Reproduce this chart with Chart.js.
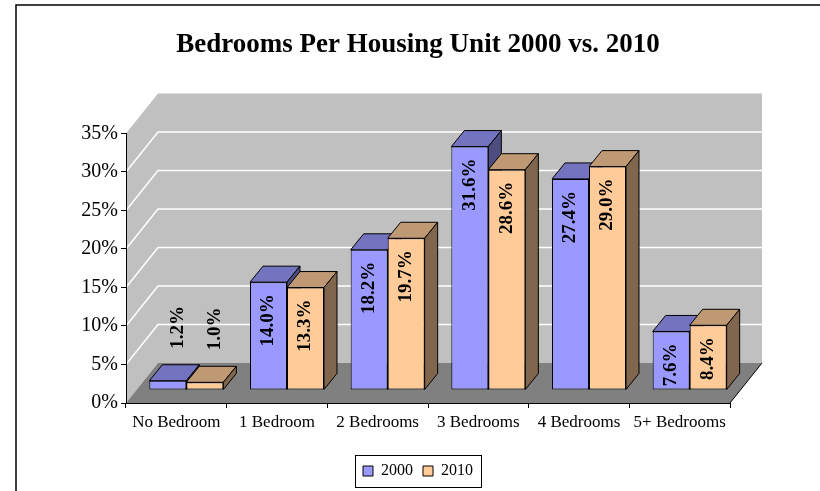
<!DOCTYPE html>
<html>
<head>
<meta charset="utf-8">
<script src="https://cdn.jsdelivr.net/npm/chart.js@4"></script>
<style>
  html, body { margin: 0; padding: 0; background: #fff; }
</style>
</head>
<body>
<canvas id="chart" width="820" height="491"></canvas>
<script>
const categories = ['No Bedroom', '1 Bedroom', '2 Bedrooms', '3 Bedrooms', '4 Bedrooms', '5+ Bedrooms'];
const seriesNames = ['2000', '2010'];
const values2000 = [1.2, 14.0, 18.2, 31.6, 27.4, 7.6];
const values2010 = [1.0, 13.3, 19.7, 28.6, 29.0, 8.4];
const yTicks = [0, 5, 10, 15, 20, 25, 30, 35];

const frontColors = ['#9999FF', '#FFCC99'];
const topColors = ['#7373BF', '#BF9973'];
const sideColors = ['#4D4D80', '#80664D'];

// fake 3d offsets (excel style)
const WALL_DX = 32, WALL_DY = -40;
const BAR_DX = 10, BAR_DY = -13;
const DEPTH_DX = 13, DEPTH_DY = -16;

Chart.defaults.font.family = '"Liberation Serif", "Times New Roman", serif';
Chart.defaults.color = '#000';

function poly(ctx, pts, fill, stroke) {
  ctx.beginPath();
  ctx.moveTo(pts[0][0], pts[0][1]);
  for (let i = 1; i < pts.length; i++) ctx.lineTo(pts[i][0], pts[i][1]);
  ctx.closePath();
  if (fill) { ctx.fillStyle = fill; ctx.fill(); }
  if (stroke) { ctx.strokeStyle = stroke; ctx.lineWidth = 1; ctx.stroke(); }
}

const scene3d = {
  id: 'scene3d',
  beforeDraw(chart) {
    const { ctx } = chart;
    const xs = chart.scales.x, ys = chart.scales.y;
    const L = xs.left, R = xs.right;
    const B = ys.getPixelForValue(yTicks[0]);
    const T = ys.getPixelForValue(yTicks[yTicks.length - 1]);
    ctx.save();
    ctx.fillStyle = '#fff';
    ctx.fillRect(0, 0, chart.width, chart.height);

    // outer frame (cropped at right/bottom)
    ctx.strokeStyle = '#000';
    ctx.lineWidth = 1.5;
    ctx.beginPath();
    ctx.moveTo(16, chart.height);
    ctx.lineTo(16, 5);
    ctx.lineTo(chart.width, 5);
    ctx.stroke();

    // walls
    poly(ctx, [[L + WALL_DX, T + WALL_DY], [R + WALL_DX, T + WALL_DY], [R + WALL_DX, B + WALL_DY], [L + WALL_DX, B + WALL_DY]], '#C0C0C0');
    poly(ctx, [[L, B], [L, T], [L + WALL_DX, T + WALL_DY], [L + WALL_DX, B + WALL_DY]], '#C0C0C0');

    ctx.strokeStyle = '#fff';
    ctx.lineWidth = 1.5;
    yTicks.slice(1, -1).forEach(v => {
      const py = ys.getPixelForValue(v);
      ctx.beginPath();
      ctx.moveTo(L, py);
      ctx.lineTo(L + WALL_DX, py + WALL_DY);
      ctx.lineTo(R + WALL_DX, py + WALL_DY);
      ctx.stroke();
    });

    // floor
    poly(ctx, [[L, B], [R, B], [R + WALL_DX, B + WALL_DY], [L + WALL_DX, B + WALL_DY]], '#808080');
    ctx.strokeStyle = '#000';
    ctx.lineWidth = 1;
    ctx.beginPath();
    ctx.moveTo(R, B);
    ctx.lineTo(R + WALL_DX, B + WALL_DY);
    ctx.stroke();
    ctx.restore();
  },
  beforeDatasetsDraw(chart) {
    const { ctx } = chart;
    ctx.save();
    categories.forEach((c, i) => {
      chart.data.datasets.forEach((ds, d) => {
        const bar = chart.getDatasetMeta(d).data[i];
        const p = bar.getProps(['x', 'y', 'base', 'width'], true);
        const l = p.x - p.width / 2 + BAR_DX, r = p.x + p.width / 2 + BAR_DX;
        const t = p.y + BAR_DY, b = p.base + BAR_DY;
        poly(ctx, [[l, t], [r, t], [r + DEPTH_DX, t + DEPTH_DY], [l + DEPTH_DX, t + DEPTH_DY]], topColors[d], '#000');
        poly(ctx, [[r, t], [r + DEPTH_DX, t + DEPTH_DY], [r + DEPTH_DX, b + DEPTH_DY], [r, b]], sideColors[d], '#000');
      });
    });
    // front faces are drawn by chart.js, shifted back into the floor
    ctx.translate(BAR_DX, BAR_DY);
  },
  afterDatasetsDraw(chart) {
    const { ctx } = chart;
    ctx.restore();
    ctx.save();
    ctx.font = 'bold 19px "Liberation Serif"';
    ctx.fillStyle = '#000';
    ctx.textBaseline = 'middle';
    chart.data.datasets.forEach((ds, d) => {
      chart.getDatasetMeta(d).data.forEach((bar, i) => {
        const p = bar.getProps(['x', 'y', 'base'], true);
        const txt = ds.data[i].toFixed(1) + '%';
        const tw = ctx.measureText(txt).width;
        const cx = p.x + BAR_DX, top = p.y + BAR_DY;
        const h = p.base - p.y;
        ctx.save();
        if (h > tw + 10) {
          ctx.translate(cx, top + 12);
          ctx.rotate(-Math.PI / 2);
          ctx.textAlign = 'right';
        } else {
          ctx.translate(cx + 10, top - 32);
          ctx.rotate(-Math.PI / 2);
          ctx.textAlign = 'left';
        }
        ctx.fillText(txt, 0, 0);
        ctx.restore();
      });
    });
    ctx.restore();
  },
  afterDraw(chart) {
    const boxes = chart.legend.legendHitBoxes;
    if (!boxes || !boxes.length) return;
    let x0 = Infinity, y0 = Infinity, x1 = -Infinity, y1 = -Infinity;
    boxes.forEach(b => {
      x0 = Math.min(x0, b.left); y0 = Math.min(y0, b.top);
      x1 = Math.max(x1, b.left + b.width); y1 = Math.max(y1, b.top + b.height);
    });
    const { ctx } = chart;
    ctx.save();
    ctx.strokeStyle = '#000';
    ctx.lineWidth = 1;
    ctx.strokeRect(Math.round(x0 - 8) + 0.5, Math.round(y0 - 8) + 0.5, Math.round(x1 - x0 + 16), Math.round(y1 - y0 + 16));
    ctx.restore();
  }
};

new Chart(document.getElementById('chart'), {
  type: 'bar',
  data: {
    labels: categories,
    datasets: [
      { label: seriesNames[0], data: values2000, backgroundColor: frontColors[0] },
      { label: seriesNames[1], data: values2010, backgroundColor: frontColors[1] }
    ].map(ds => Object.assign(ds, {
      borderColor: '#000',
      borderWidth: 1,
      borderSkipped: false,
      categoryPercentage: 0.735,
      barPercentage: 1.0,
      clip: false,
      yAxisID: 'y'
    }))
  },
  options: {
    responsive: false,
    animation: false,
    layout: { padding: { left: 16, right: 0, top: 0, bottom: 2 } },
    plugins: {
      title: {
        display: true,
        text: 'Bedrooms Per Housing Unit 2000 vs. 2010',
        font: { size: 27, weight: 'bold' },
        color: '#000',
        padding: { top: 29, bottom: 72 }
      },
      legend: {
        position: 'bottom',
        labels: { boxWidth: 10, boxHeight: 10, padding: 10, font: { size: 16 } }
      },
      tooltip: { enabled: false }
    },
    scales: {
      x: {
        grid: { display: true, offset: true, drawOnChartArea: false, drawTicks: true, tickLength: 5, color: '#000' },
        border: { display: true, color: '#000' },
        ticks: { font: { size: 17 }, padding: 4, maxRotation: 0, autoSkip: false },
        afterFit: s => { s.height = 50; }
      },
      y: {
        min: yTicks[0],
        max: yTicks[yTicks.length - 1],
        grid: { drawOnChartArea: false, drawTicks: true, tickLength: 5, color: '#000' },
        border: { display: true, color: '#000' },
        ticks: { stepSize: yTicks[1] - yTicks[0], font: { size: 20 }, callback: v => v + '%' },
        afterFit: s => { s.width = 110; }
      },
      yRight: {
        position: 'right',
        display: true,
        grid: { display: false },
        border: { display: false },
        ticks: { display: false },
        afterFit: s => { s.width = 90; }
      }
    }
  },
  plugins: [scene3d]
});
</script>
</body>
</html>
